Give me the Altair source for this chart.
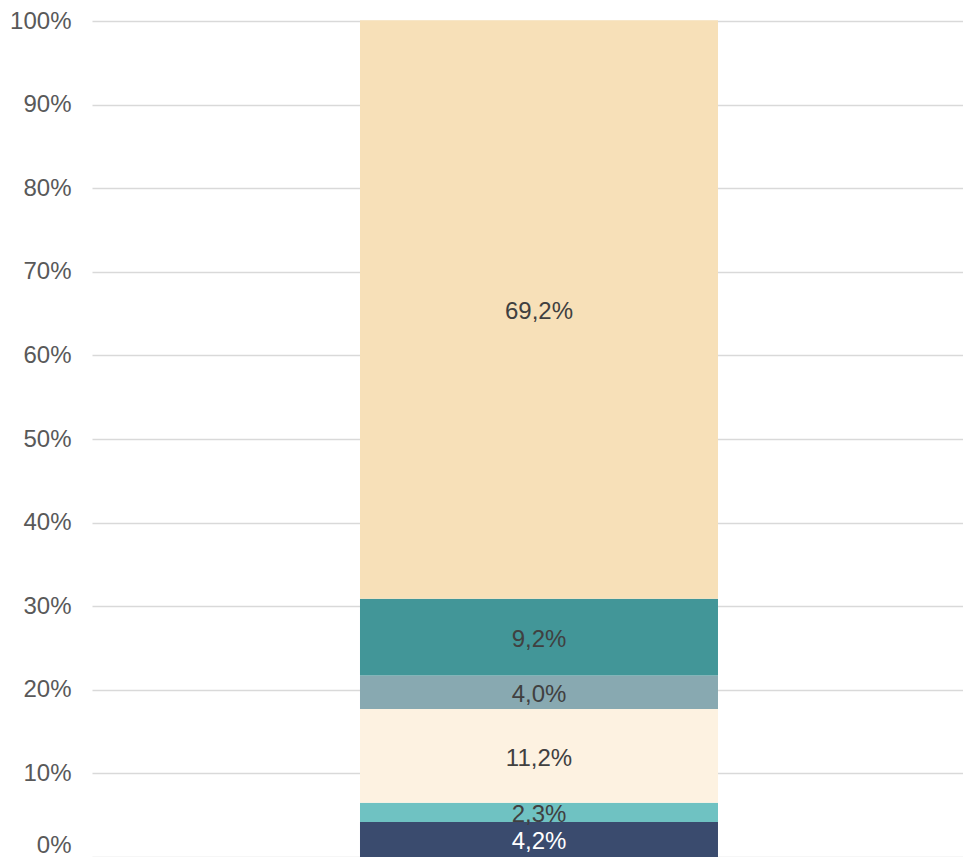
import altair as alt
import pandas as pd

segments = ["A", "B", "C", "D", "E", "F"]
values = [4.2, 2.3, 11.2, 4.0, 9.2, 69.2]
colors = ["#3a4b6e", "#6fc2c2", "#fdf2e1", "#88a9b1", "#429698", "#f7e0b8"]
y_ticks = [0, 10, 20, 30, 40, 50, 60, 70, 80, 90, 100]

df = pd.DataFrame({
    "cat": ["x"] * len(values),
    "segment": segments,
    "value": values,
    "ord": list(range(len(values))),
})

x_enc = alt.X("cat:N", axis=None,
              scale=alt.Scale(paddingInner=0, paddingOuter=0.7165, align=0.5224))

base = alt.Chart(df).transform_stack(
    stack="value", groupby=["cat"], as_=["v0", "v1"],
    sort=[alt.SortField("ord", order="ascending")]
).transform_calculate(
    mid="(datum.v0 + datum.v1) / 2",
    label="replace(format(datum.value, '.1f'), '.', ',') + '%'"
)

bars = base.mark_bar().encode(
    x=x_enc,
    y=alt.Y("v0:Q", scale=alt.Scale(domain=[0, 100], nice=False),
            axis=alt.Axis(values=y_ticks, labelExpr="datum.value + '%'", title=None,
                          domain=False, ticks=False, labelPadding=21,
                          labelFontSize=24, labelColor="#595959", labelFont="Liberation Sans",
                          labelBaseline={"condition": {"test": "datum.value == 0", "value": "bottom"},
                                         "value": "middle"},
                          grid=True, gridColor="#d9d9d9", gridWidth=1.5)),
    y2="v1:Q",
    color=alt.Color("segment:N", scale=alt.Scale(domain=segments, range=colors), legend=None),
)

labels = base.mark_text(fontSize=24, font="Liberation Sans", baseline="middle", dy=3).encode(
    x=x_enc,
    y=alt.Y("mid:Q"),
    text="label:N",
    color=alt.condition("datum.ord == 0", alt.value("#ffffff"), alt.value("#404040")),
)

chart = alt.layer(bars, labels).properties(
    width=871, height=836,
    padding={"left": 84, "top": 13, "right": 0, "bottom": 0},
    autosize=alt.AutoSizeParams(type="none"),
).configure_view(stroke=None)

chart.save("out.html", embed_options={"renderer": "svg", "actions": False})
